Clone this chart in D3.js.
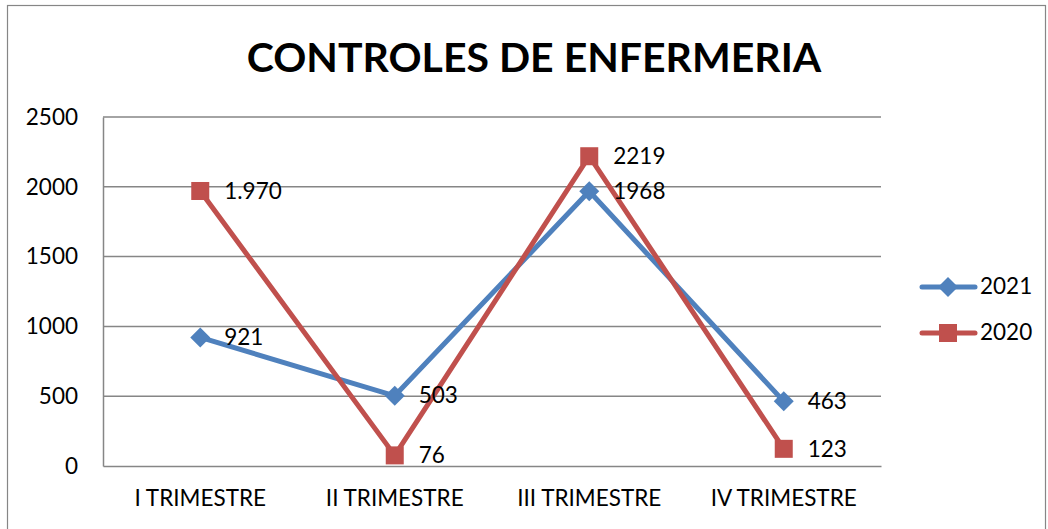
<!DOCTYPE html>
<html>
<head>
<meta charset="utf-8">
<script src="https://cdn.jsdelivr.net/npm/d3@7"></script>
<style>
  body { margin: 0; background: #fff; }
  text { font-family: Lato, "Open Sans", sans-serif; fill: #000; }
</style>
</head>
<body>
<div id="chart"></div>
<script>
// chart data
const categories = ['I TRIMESTRE', 'II TRIMESTRE', 'III TRIMESTRE', 'IV TRIMESTRE'];
const values2021 = [921, 503, 1968, 463];
const values2020 = [1970, 76, 2219, 123];
const labels2021 = ['921', '503', '1968', '463'];
const labels2020 = ['1.970', '76', '2219', '123'];
const yTicks = [0, 500, 1000, 1500, 2000, 2500];

const W = 1048, H = 529;
const plot = { left: 103, right: 881, top: 117, bottom: 466 };
const FS = 22.5;

const series = [
  { name: '2021', values: values2021, labels: labels2021, color: '#4F81BD', shape: 'diamond' },
  { name: '2020', values: values2020, labels: labels2020, color: '#C0504D', shape: 'square' },
];

const svg = d3.select('#chart').append('svg')
  .attr('width', W)
  .attr('height', H);

// outer frame
svg.append('rect')
  .attr('x', 7.5).attr('y', 5.5)
  .attr('width', 1038).attr('height', 540)
  .attr('fill', 'none')
  .attr('stroke', '#868686')
  .attr('stroke-width', 1.2);

svg.append('text')
  .attr('x', 534).attr('y', 72)
  .attr('text-anchor', 'middle')
  .attr('font-size', 41)
  .attr('font-weight', 'bold')
  .text('CONTROLES DE ENFERMERIA');

const x = d3.scaleBand()
  .domain(categories)
  .range([plot.left, plot.right]);

const y = d3.scaleLinear()
  .domain([0, 2500])
  .range([plot.bottom, plot.top]);

const cx = c => x(c) + x.bandwidth() / 2;

// gridlines
svg.append('g')
  .selectAll('line')
  .data(yTicks.filter(t => t > 0))
  .enter()
  .append('line')
  .attr('x1', plot.left).attr('x2', plot.right)
  .attr('y1', d => y(d)).attr('y2', d => y(d))
  .attr('stroke', '#868686')
  .attr('stroke-width', 1.5);

// y axis
const yAxis = svg.append('g')
  .attr('transform', `translate(${plot.left},0)`)
  .call(d3.axisLeft(y).tickValues(yTicks).tickFormat(d3.format('d')).tickSize(0).tickPadding(25));
yAxis.select('.domain').attr('stroke', '#868686').attr('stroke-width', 1.5);
yAxis.selectAll('text').attr('font-size', FS).attr('font-family', 'Lato, sans-serif');

// x axis
const xAxis = svg.append('g')
  .attr('transform', `translate(0,${plot.bottom})`)
  .call(d3.axisBottom(x).tickSize(0).tickPadding(24));
xAxis.select('.domain').attr('stroke', '#868686').attr('stroke-width', 1.5);
xAxis.selectAll('text').attr('font-size', FS).attr('font-family', 'Lato, sans-serif');

const line = d3.line()
  .x((d, i) => cx(categories[i]))
  .y(d => y(d));

function marker(g, shape, color, px, py) {
  if (shape === 'diamond') {
    g.append('path')
      .attr('d', `M${px},${py - 10}L${px + 10},${py}L${px},${py + 10}L${px - 10},${py}Z`)
      .attr('fill', color);
  } else {
    g.append('rect')
      .attr('x', px - 9).attr('y', py - 9)
      .attr('width', 18).attr('height', 18)
      .attr('fill', color);
  }
}

series.forEach(s => {
  const g = svg.append('g');
  g.append('path')
    .datum(s.values)
    .attr('d', line)
    .attr('fill', 'none')
    .attr('stroke', s.color)
    .attr('stroke-width', 5)
    .attr('stroke-linejoin', 'round');
  s.values.forEach((v, i) => marker(g, s.shape, s.color, cx(categories[i]), y(v)));
});

// data labels
series.forEach(s => {
  svg.append('g')
    .selectAll('text')
    .data(s.values)
    .enter()
    .append('text')
    .attr('x', (d, i) => cx(categories[i]) + 24)
    .attr('y', d => y(d) + 2)
    .attr('dominant-baseline', 'middle')
    .attr('font-size', FS)
    .text((d, i) => s.labels[i]);
});

// legend
const legend = svg.append('g');
series.forEach((s, i) => {
  const ly = 287 + i * 46;
  legend.append('line')
    .attr('x1', 922).attr('x2', 975)
    .attr('y1', ly).attr('y2', ly)
    .attr('stroke', s.color)
    .attr('stroke-width', 5)
    .attr('stroke-linecap', 'round');
  marker(legend, s.shape, s.color, 948, ly);
  legend.append('text')
    .attr('x', 980).attr('y', ly + 1)
    .attr('dominant-baseline', 'middle')
    .attr('font-size', FS)
    .text(s.name);
});
</script>
</body>
</html>
